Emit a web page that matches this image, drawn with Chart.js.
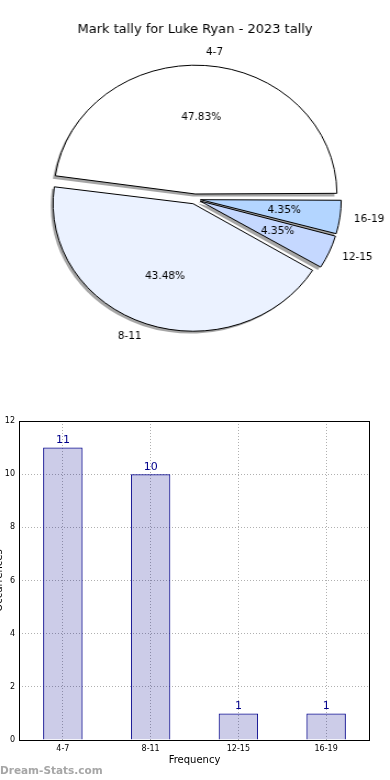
<!DOCTYPE html>
<html>
<head>
<meta charset="utf-8">
<script src="https://cdn.jsdelivr.net/npm/chart.js@4.4.1/dist/chart.umd.min.js"></script>
<style>
    html, body { margin: 0; padding: 0; background: #fff; }
    body { width: 390px; height: 780px; position: relative; overflow: hidden; }
    /* the pie is drawn as a circle and stretched a bit horizontally, like the original ellipse */
    #pieWrap { position: absolute; left: 0; top: 0; width: 355px; height: 370px; transform: scaleX(1.0986); transform-origin: 0 0; }
    #barWrap { position: absolute; left: 0; top: 400px; width: 390px; height: 380px; }
</style>
</head>
<body>
<div id="pieWrap"><canvas id="pie" width="355" height="370"></canvas></div>
<div id="barWrap"><canvas id="bar" width="390" height="380"></canvas></div>
<script>
const categories = ["4-7", "8-11", "12-15", "16-19"];
const counts = [11, 10, 1, 1];
const pieColors = ["#ffffff", "#ebf2ff", "#c5d8ff", "#b3d5ff"];
const yTicks = [0, 2, 4, 6, 8, 10, 12];
const chartTitle = "Mark tally for Luke Ryan - 2023 tally";
const xTitle = "Frequency";
const yTitle = "Occurrences";
const watermark = "Dream-Stats.com";

const FONT = '"DejaVu Sans", sans-serif';
const S = 390 / 355;
const total = counts.reduce((a, b) => a + b, 0);
// Chart.js goes clockwise, matplotlib counter-clockwise: reverse the order
const pieOrder = [3, 2, 1, 0];

function arcGeom(arc) {
    const p = arc.getProps(["x", "y", "startAngle", "endAngle", "outerRadius", "circumference"]);
    const off = arc.options.offset / 4;
    const mid = (p.startAngle + p.endAngle) / 2;
    const r = p.outerRadius + off * (1 - Math.sin(Math.min(Math.PI, p.circumference)));
    return {
        mid: mid,
        r: r,
        ox: p.x + Math.cos(mid) * off,
        oy: p.y + Math.sin(mid) * off,
        start: p.startAngle,
        end: p.endAngle,
    };
}

function drawText(ctx, text, x, y, align) {
    ctx.save();
    ctx.translate(x, y);
    ctx.scale(1 / S, 1);
    ctx.textAlign = align;
    ctx.textBaseline = "middle";
    ctx.fillText(text, 0, 0);
    ctx.restore();
}

// Sombras grises detrás de las porciones
const pieShadow = {
    id: "pieShadow",
    beforeDatasetsDraw(chart) {
        const ctx = chart.ctx;
        ctx.save();
        ctx.fillStyle = "rgba(77,77,77,0.5)";
        chart.getDatasetMeta(0).data.forEach((arc) => {
            const g = arcGeom(arc);
            const cx = g.ox - 2.4 / S;
            const cy = g.oy + 2.4;
            ctx.beginPath();
            ctx.moveTo(cx, cy);
            ctx.arc(cx, cy, g.r, g.start, g.end);
            ctx.closePath();
            ctx.fill();
        });
        ctx.restore();
    },
};

// Etiquetas y porcentajes
const pieLabels = {
    id: "pieLabels",
    afterDraw(chart) {
        const ctx = chart.ctx;
        ctx.save();
        ctx.fillStyle = "#000";
        ctx.font = "10.5px " + FONT;
        chart.getDatasetMeta(0).data.forEach((arc, k) => {
            const i = pieOrder[k];
            const g = arcGeom(arc);
            const c = Math.cos(g.mid), s = Math.sin(g.mid);
            drawText(ctx, categories[i], g.ox + c * g.r * 1.1, g.oy + s * g.r * 1.1, c >= 0 ? "left" : "right");
            const pct = (counts[i] / total * 100).toFixed(2) + "%";
            drawText(ctx, pct, g.ox + c * g.r * 0.6, g.oy + s * g.r * 0.6, "center");
        });
        ctx.font = "13px " + FONT;
        drawText(ctx, chartTitle, chart.width / 2, 30, "center");
        ctx.restore();
    },
};

new Chart(document.getElementById("pie"), {
    type: "pie",
    data: {
        labels: pieOrder.map((i) => categories[i]),
        datasets: [
            {
                data: pieOrder.map((i) => counts[i]),
                backgroundColor: pieOrder.map((i) => pieColors[i]),
                borderColor: "#000",
                borderWidth: 1,
                offset: 20,
                hoverOffset: 20,
            },
        ],
    },
    options: {
        responsive: false,
        devicePixelRatio: 1,
        animation: false,
        events: [],
        rotation: 90,
        radius: 124.5,
        layout: { padding: { top: 60, bottom: 32, left: 0, right: 0 } },
        plugins: {
            legend: { display: false },
            tooltip: { enabled: false },
        },
    },
    plugins: [pieShadow, pieLabels],
});

// Marco, valores, títulos y marca de agua
const barExtras = {
    id: "barExtras",
    afterDatasetsDraw(chart) {
        const ctx = chart.ctx;
        ctx.save();
        ctx.fillStyle = "#00008b";
        ctx.font = "11px " + FONT;
        ctx.textAlign = "center";
        ctx.textBaseline = "bottom";
        chart.getDatasetMeta(0).data.forEach((bar, i) => {
            ctx.fillText(String(counts[i]), bar.x, bar.y - 2);
        });
        ctx.restore();
    },
    afterDraw(chart) {
        const ctx = chart.ctx;
        const a = chart.chartArea;
        ctx.save();
        ctx.strokeStyle = "#000";
        ctx.lineWidth = 1;
        ctx.strokeRect(a.left + 0.5, a.top + 0.5, a.right - a.left - 1, a.bottom - a.top);
        ctx.fillStyle = "#000";
        ctx.font = "10px " + FONT;
        ctx.textAlign = "center";
        ctx.textBaseline = "middle";
        ctx.fillText(xTitle, (a.left + a.right) / 2, 360);
        ctx.save();
        ctx.translate(1.5, (a.top + a.bottom) / 2);
        ctx.rotate(-Math.PI / 2);
        ctx.textBaseline = "alphabetic";
        ctx.fillText(yTitle, 0, 0);
        ctx.restore();
        ctx.fillStyle = "#a6a6a6";
        ctx.font = "bold 10.5px " + FONT;
        ctx.textAlign = "left";
        ctx.textBaseline = "alphabetic";
        ctx.fillText(watermark, 0, 374);
        ctx.restore();
    },
};

new Chart(document.getElementById("bar"), {
    type: "bar",
    data: {
        labels: categories,
        datasets: [
            {
                data: counts,
                backgroundColor: "rgba(0,0,139,0.2)",
                borderColor: "#00008b",
                borderWidth: 1,
                barPercentage: 0.45,
                categoryPercentage: 1,
            },
        ],
    },
    options: {
        responsive: false,
        devicePixelRatio: 1,
        animation: false,
        events: [],
        layout: { padding: { top: 21, right: 20, left: 0, bottom: 0 } },
        plugins: {
            legend: { display: false },
            tooltip: { enabled: false },
        },
        scales: {
            x: {
                grid: { offset: false, color: "#b0b0b0", drawTicks: false },
                border: { display: false, dash: [1, 2] },
                ticks: { color: "#000", font: { size: 8, family: FONT }, padding: 4, maxRotation: 0 },
                afterFit(scale) { scale.height = 40; },
            },
            y: {
                min: 0,
                max: 12,
                grid: { color: "#b0b0b0", drawTicks: false },
                border: { display: false, dash: [1, 2] },
                ticks: { color: "#000", font: { size: 8, family: FONT }, padding: 4 },
                afterBuildTicks(scale) { scale.ticks = yTicks.map((v) => ({ value: v })); },
                afterFit(scale) { scale.width = 19; },
            },
        },
    },
    plugins: [barExtras],
});
</script>
</body>
</html>
